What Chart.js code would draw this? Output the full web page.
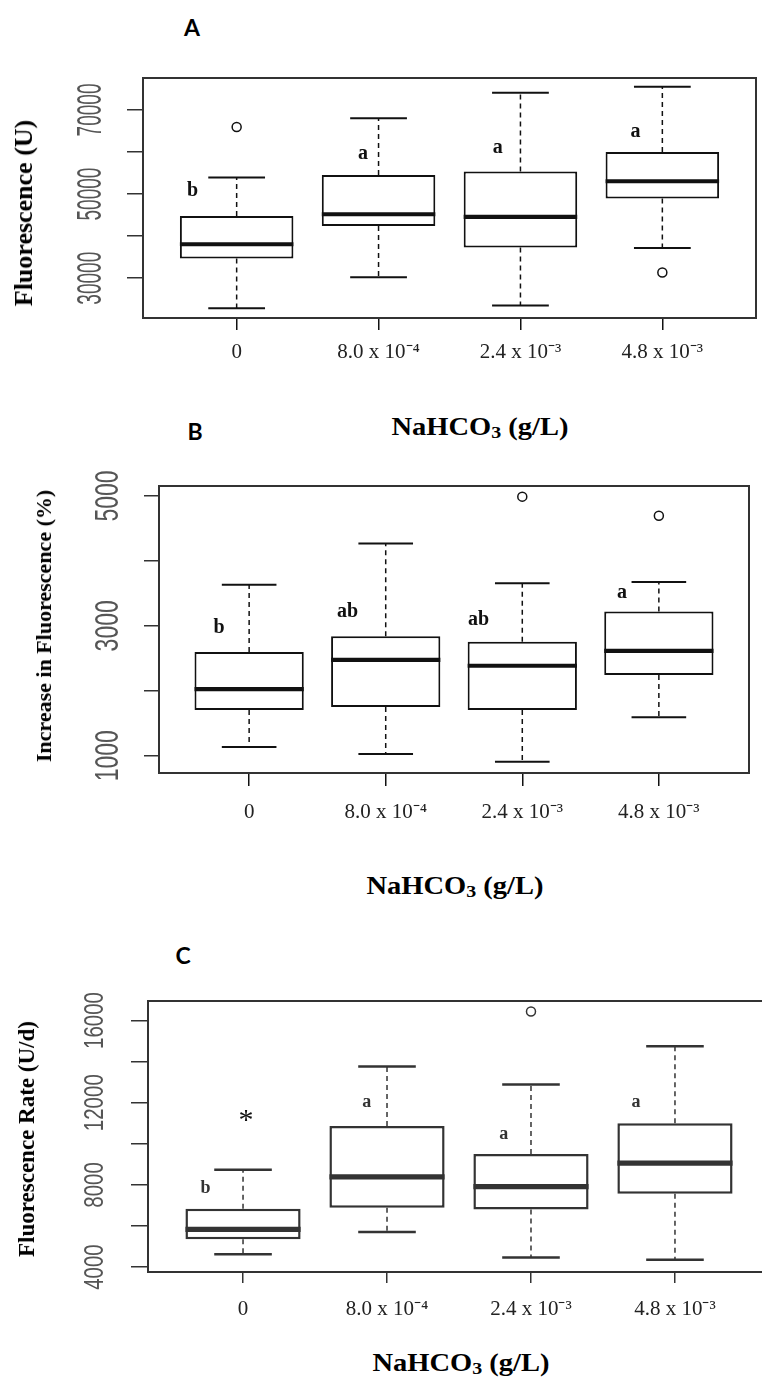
<!DOCTYPE html>
<html>
<head>
<meta charset="utf-8">
<script src="https://cdn.jsdelivr.net/npm/chart.js@4.4.0/dist/chart.umd.min.js"></script>
<style>
  body { margin: 0; background: #fff; }
  #page { position: relative; width: 762px; height: 1378px; overflow: hidden; }
  canvas { position: absolute; left: 0; }
  .t { position: absolute; white-space: nowrap; transform: translate(-50%, -50%); color: #000; }
  .panel { font-family: Lato, "Open Sans", sans-serif; font-weight: bold; font-size: 23px; }
  .xt { font-family: "Liberation Serif", serif; font-weight: bold; font-size: 25px; transform: translate(-50%, -50%) scaleX(1.14); }
  .xt sub { font-size: 70%; vertical-align: -3px; }
  .yt { font-family: "Liberation Serif", serif; font-weight: bold; transform: translate(-50%, -50%) rotate(-90deg); }
</style>
</head>
<body>
<div id="page">
  <canvas id="chartA" width="762" height="320" style="top:60px"></canvas>
  <canvas id="chartB" width="762" height="360" style="top:470px"></canvas>
  <canvas id="chartC" width="780" height="350" style="top:975px"></canvas>

  <div class="t panel" style="left:192px;top:27px">A</div>
  <div class="t panel" style="left:195px;top:431px">B</div>
  <div class="t panel" style="left:183px;top:955px">C</div>

  <div class="t xt" style="left:480px;top:428px">NaHCO<sub>3</sub> (g/L)</div>
  <div class="t xt" style="left:455px;top:887px">NaHCO<sub>3</sub> (g/L)</div>
  <div class="t xt" style="left:461px;top:1364px">NaHCO<sub>3</sub> (g/L)</div>

  <div class="t yt" style="left:24px;top:213px;font-size:26px">Fluorescence (U)</div>
  <div class="t yt" style="left:44px;top:626px;font-size:22px">Increase in Fluorescence (%)</div>
  <div class="t yt" style="left:27px;top:1139px;font-size:23px">Fluorescence Rate (U/d)</div>
</div>
<script>
const doses = ['0', '8.0 x 10⁻⁴', '2.4 x 10⁻³', '4.8 x 10⁻³'];

// A: Fluorescence (U)
const aMin = [22870, 30240, 23510, 37210];
const aQ1 = [34680, 42440, 37290, 48930];
const aMed = [38080, 45210, 44580, 53050];
const aQ3 = [44810, 54560, 55350, 60020];
const aMax = [53920, 68020, 74120, 75540];
const aOutX = [1, 4];
const aOutY = [65960, 31350];
const aLetters = ['b', 'a', 'a', 'a'];
const aTicks = [30000, 40000, 50000, 60000, 70000];
const aTickLabels = [30000, 50000, 70000];

// B: Increase in Fluorescence (%)
const bMin = [1133, 1026, 908, 1590];
const bQ1 = [1703, 1749, 1703, 2241];
const bMed = [2026, 2477, 2385, 2615];
const bQ3 = [2595, 2841, 2754, 3221];
const bMax = [3631, 4267, 3656, 3677];
const bOutX = [3, 4];
const bOutY = [4990, 4697];
const bLetters = ['b', 'ab', 'ab', 'a'];
const bTicks = [1000, 2000, 3000, 4000, 5000];
const bTickLabels = [1000, 3000, 5000];

// C: Fluorescence Rate (U/d)
const cMin = [4629, 5710, 4468, 4355];
const cQ1 = [5355, 6887, 6806, 7565];
const cMed = [5839, 8387, 7919, 9065];
const cQ3 = [6839, 10871, 9500, 11000];
const cMax = [8742, 13758, 12887, 14742];
const cOutX = [3];
const cOutY = [16435];
const cLetters = ['b', 'a', 'a', 'a'];
const cTicks = [4000, 6000, 8000, 10000, 12000, 14000, 16000];
const cTickLabels = [4000, 8000, 12000, 16000];

function boxPlugin(p) {
  return {
    id: 'boxplot',
    afterDatasetsDraw(chart) {
      const { ctx, chartArea: ca, scales: { x, y } } = chart;
      const line = (x1, y1, x2, y2) => { ctx.beginPath(); ctx.moveTo(x1, y1); ctx.lineTo(x2, y2); ctx.stroke(); };
      ctx.save();
      ctx.strokeStyle = p.ink;
      for (let i = 0; i < p.med.length; i++) {
        const cx = x.getPixelForValue(i + 1);
        const capW = x.getPixelForValue(i + 1.2) - cx;
        const boxW = x.getPixelForValue(i + 1.4) - cx;
        // whiskers
        ctx.lineWidth = 1.5;
        ctx.setLineDash([5, 4]);
        line(cx, y.getPixelForValue(p.q3[i]), cx, y.getPixelForValue(p.max[i]));
        line(cx, y.getPixelForValue(p.q1[i]), cx, y.getPixelForValue(p.min[i]));
        ctx.setLineDash([]);
        ctx.lineWidth = p.lw;
        line(cx - capW, y.getPixelForValue(p.max[i]), cx + capW, y.getPixelForValue(p.max[i]));
        line(cx - capW, y.getPixelForValue(p.min[i]), cx + capW, y.getPixelForValue(p.min[i]));
        // median
        ctx.lineWidth = p.lw * 2.1;
        line(cx - boxW, y.getPixelForValue(p.med[i]), cx + boxW, y.getPixelForValue(p.med[i]));
      }
      // frame
      ctx.lineWidth = 2;
      ctx.strokeStyle = '#333';
      ctx.strokeRect(ca.left, ca.top, ca.width, ca.height);

      // y tick labels, drawn parallel to the axis
      ctx.fillStyle = '#555';
      ctx.font = p.yFont + 'px "Liberation Sans", Arial, sans-serif';
      ctx.textAlign = 'center';
      ctx.textBaseline = 'middle';
      y.ticks.forEach(t => {
        if (!p.tickLabels.includes(t.value)) return;
        ctx.save();
        ctx.translate(ca.left - p.yLabOff, y.getPixelForValue(t.value));
        ctx.scale(p.yStretch, 1);
        ctx.rotate(-Math.PI / 2);
        ctx.fillText(String(t.value), 0, 0);
        ctx.restore();
      });

      // significance letters
      ctx.fillStyle = p.ink;
      ctx.font = 'bold ' + p.letterFont + 'px "Liberation Serif", serif';
      p.letters.forEach((l, i) => {
        ctx.fillText(l, x.getPixelForValue(p.letterX[i]), y.getPixelForValue(p.letterY[i]));
      });
      if (p.star) {
        ctx.fillStyle = '#111';
        ctx.font = '30px "Liberation Serif", serif';
        ctx.fillText('*', x.getPixelForValue(p.star[0]), y.getPixelForValue(p.star[1]) + 8);
      }
      ctx.restore();
    }
  };
}

function makeChart(id, p) {
  return new Chart(document.getElementById(id), {
    type: 'bar',
    data: {
      datasets: [
        {
          type: 'bar',
          data: p.q1.map((v, i) => ({ x: i + 1, y: [v, p.q3[i]] })),
          backgroundColor: '#fff',
          borderColor: p.ink,
          borderWidth: p.lw,
          borderSkipped: false,
          categoryPercentage: 1,
          barPercentage: 0.8
        },
        {
          type: 'scatter',
          data: p.outX.map((v, i) => ({ x: v, y: p.outY[i] })),
          pointStyle: 'circle',
          pointRadius: 4.5,
          backgroundColor: '#fff',
          borderColor: p.ink,
          borderWidth: 1.5
        }
      ]
    },
    options: {
      responsive: false,
      animation: false,
      layout: { padding: { top: p.padTop, right: p.padRight, left: 0, bottom: 0 } },
      plugins: { legend: { display: false }, tooltip: { enabled: false } },
      scales: {
        x: {
          type: 'linear', min: 0.34, max: 4.66, offset: false,
          afterBuildTicks: s => { s.ticks = doses.map((d, i) => ({ value: i + 1 })); },
          afterFit: s => { s.height = p.xH; },
          grid: { drawOnChartArea: false, offset: false, tickLength: p.xTick, color: p.ink, lineWidth: 1.5 },
          border: { display: false },
          ticks: {
            autoSkip: false, maxRotation: 0, padding: p.xPad, color: '#222',
            font: { family: '"Liberation Serif", serif', size: 21 },
            callback: v => doses[v - 1]
          }
        },
        y: {
          min: p.yMin, max: p.yMax,
          afterBuildTicks: s => { s.ticks = p.ticks.map(v => ({ value: v })); },
          afterFit: s => { s.width = p.left; },
          grid: { drawOnChartArea: false, tickLength: p.yTick, color: '#333', lineWidth: 1.5 },
          border: { display: false },
          ticks: { display: false }
        }
      }
    },
    plugins: [boxPlugin(p)]
  });
}

makeChart('chartA', {
  min: aMin, q1: aQ1, med: aMed, q3: aQ3, max: aMax, outX: aOutX, outY: aOutY,
  letters: aLetters, letterX: [0.69, 1.89, 2.84, 3.81], letterY: [50830, 59480, 61040, 64700],
  ticks: aTicks, tickLabels: aTickLabels, yMin: 20540, yMax: 77600,
  ink: '#111', lw: 2, padTop: 18, padRight: 2, left: 143, xH: 62, xTick: 12, xPad: 10,
  yTick: 16, yFont: 19, yStretch: 1.8, yLabOff: 51, letterFont: 20
});

makeChart('chartB', {
  min: bMin, q1: bQ1, med: bMed, q3: bQ3, max: bMax, outX: bOutX, outY: bOutY,
  letters: bLetters, letterX: [0.78, 1.72, 2.68, 3.73], letterY: [2965, 3220, 3092, 3512],
  ticks: bTicks, tickLabels: bTickLabels, yMin: 733, yMax: 5154,
  ink: '#111', lw: 2, padTop: 16, padRight: 13, left: 159, xH: 57, xTick: 13, xPad: 14,
  yTick: 15, yFont: 23, yStretch: 1.45, yLabOff: 50, letterFont: 20
});

makeChart('chartC', {
  min: cMin, q1: cQ1, med: cMed, q3: cQ3, max: cMax, outX: cOutX, outY: cOutY,
  letters: cLetters, letterX: [0.74, 1.86, 2.81, 3.73], letterY: [7856, 12000, 10483, 12000],
  star: [1.02, 11485],
  ticks: cTicks, tickLabels: cTickLabels, yMin: 3760, yMax: 16950,
  ink: '#333', lw: 2.5, padTop: 26, padRight: 10, left: 148, xH: 53, xTick: 11, xPad: 14,
  yTick: 17, yFont: 20.5, yStretch: 1.36, yLabOff: 53, letterFont: 18
});
</script>
</body>
</html>
